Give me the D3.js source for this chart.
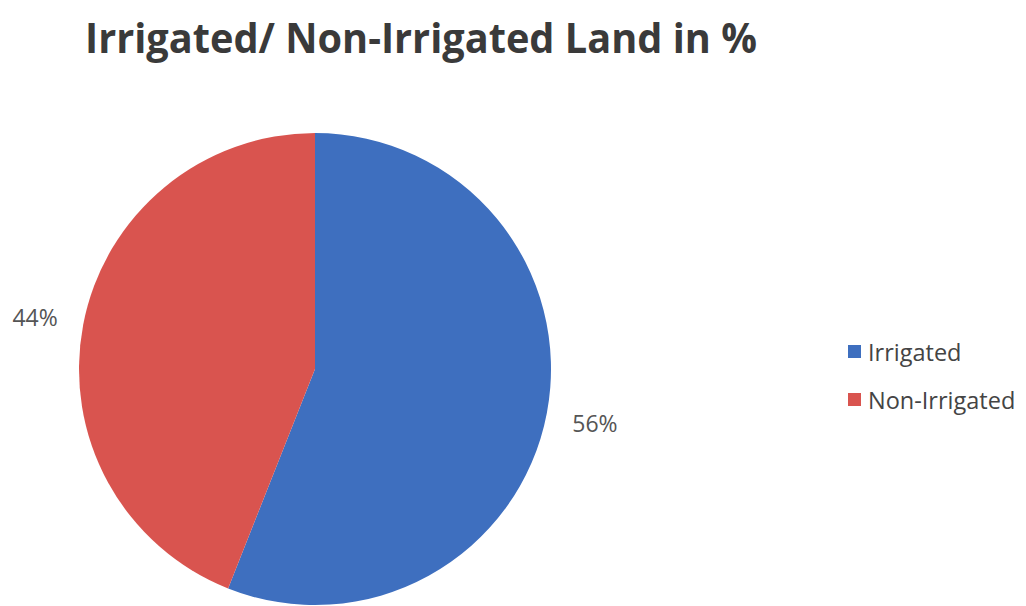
<!DOCTYPE html>
<html>
<head>
<meta charset="utf-8">
<script src="https://cdn.jsdelivr.net/npm/d3@7"></script>
<style>
  html, body { margin: 0; padding: 0; background: #fff; }
  svg { display: block; }
</style>
</head>
<body>
<svg id="chart" width="1026" height="606"></svg>
<script>
const categories = ["Irrigated", "Non-Irrigated"];
const shares = [56, 44];
const colors = ["#3e6fbf", "#d9544f"];
const titleText = "Irrigated/ Non-Irrigated Land in %";

const svg = d3.select("#chart");
const cx = 315, cy = 369, radius = 236;

// Title
svg.append("text")
  .attr("x", 85).attr("y", 53)
  .attr("font-family", "Open Sans, sans-serif")
  .attr("font-weight", "bold")
  .attr("font-size", 41)
  .attr("fill", "#3a3a3a")
  .attr("textLength", 672)
  .attr("lengthAdjust", "spacingAndGlyphs")
  .text(titleText);

const color = d3.scaleOrdinal().domain(categories).range(colors);

const pie = d3.pie().sort(null).value(d => d.value);
const data = categories.map((c, i) => ({ name: c, value: shares[i] }));
const arcs = pie(data);

const arc = d3.arc().innerRadius(0).outerRadius(radius);

const g = svg.append("g").attr("transform", `translate(${cx},${cy})`);

g.selectAll("path.slice")
  .data(arcs)
  .join("path")
  .attr("class", "slice")
  .attr("d", arc)
  .attr("fill", d => color(d.data.name));

// Percent labels placed just outside each slice's mid-angle
const total = d3.sum(shares);
const labelR = radius + 49;
g.selectAll("text.pct")
  .data(arcs)
  .join("text")
  .attr("class", "pct")
  .attr("font-family", "Open Sans, sans-serif")
  .attr("font-size", 23)
  .attr("fill", "#555")
  .attr("text-anchor", "middle")
  .attr("x", d => Math.sin((d.startAngle + d.endAngle) / 2) * labelR)
  .attr("y", d => -Math.cos((d.startAngle + d.endAngle) / 2) * labelR + 10)
  .text(d => Math.round(d.data.value / total * 100) + "%");

// Legend
const legend = svg.append("g").attr("transform", "translate(848,345)");
const items = legend.selectAll("g.item")
  .data(categories)
  .join("g")
  .attr("class", "item")
  .attr("transform", (d, i) => `translate(0,${i * 48})`);
items.append("rect")
  .attr("width", 13).attr("height", 13)
  .attr("fill", d => color(d));
items.append("text")
  .attr("x", 20).attr("y", 16)
  .attr("font-family", "Open Sans, sans-serif")
  .attr("font-size", 23.5)
  .attr("fill", "#444")
  .text(d => d);
</script>
</body>
</html>
